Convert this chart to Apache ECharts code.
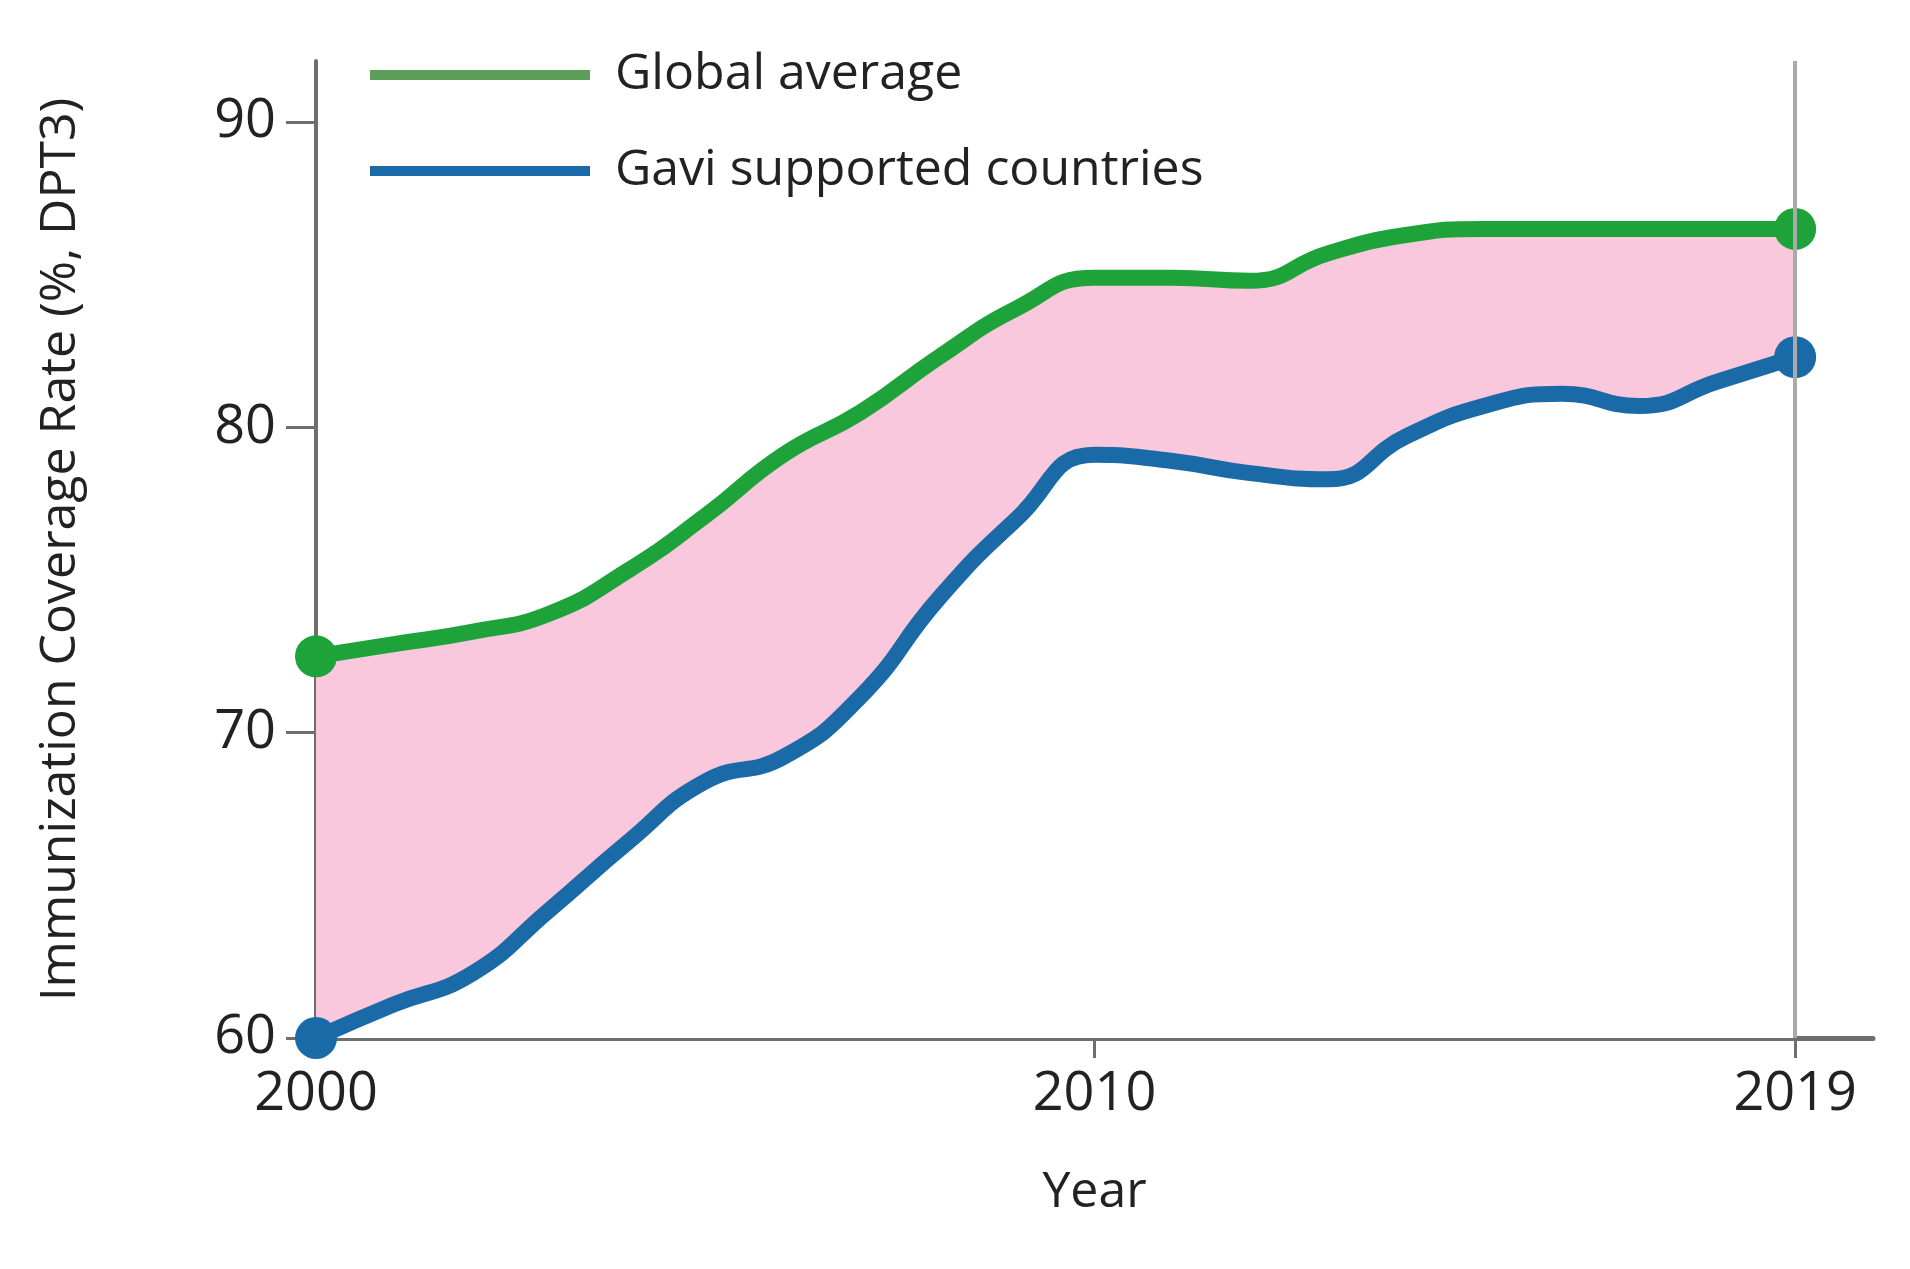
<!DOCTYPE html>
<html><head><meta charset="utf-8">
<script src="https://cdn.jsdelivr.net/npm/echarts@6/dist/echarts.min.js"></script>
<style>html,body{margin:0;background:#fff}#chart{width:1910px;height:1269px}</style>
</head><body><div id="chart"></div>
<script>
var years = [2000,2001,2002,2003,2004,2005,2006,2007,2008,2009,2010,2011,2012,2013,2014,2015,2016,2017,2018,2019];
var globalAvg = [72.5,72.9,73.3,73.9,75.3,77.1,79.1,80.5,82.3,83.9,84.9,84.9,84.8,85.7,86.3,86.5,86.5,86.5,86.5,86.5];
var gaviData = [60,61.1,62.1,64.2,66.4,68.4,69.2,71.2,74.4,77,79.1,78.9,78.5,78.3,79.7,80.7,81.1,80.7,81.5,82.3];
var xTicks = [2000,2010,2019];
var yTicks = [60,70,80,90];

var green = '#1ea23a', blue = '#1a6aa8', pink = '#f9c8dc', axisGray = '#6e6e6e';
var endSym = function (v, p) { return (p.dataIndex === 0 || p.dataIndex === years.length - 1) ? 42 : 0; };
var gaviPts = years.map(function (y, i) { return [y, gaviData[i]]; });
var globalPts = years.map(function (y, i) { return [y, globalAvg[i]]; });

var chart = echarts.init(document.getElementById('chart'));
chart.setOption({
  animation: false,
  textStyle: { fontFamily: 'Open Sans' },
  grid: { left: 316, right: 37, top: 61, bottom: 231 },
  legend: {
    orient: 'vertical', left: 365, top: 45, itemWidth: 220, itemHeight: 10, itemGap: 46,
    textStyle: { fontSize: 50, color: '#222', fontFamily: 'Open Sans', padding: [0, 0, 0, 20] },
    data: [
      { name: 'Global average', icon: 'rect', itemStyle: { color: '#5a9e5a' } },
      { name: 'Gavi supported countries', icon: 'rect', itemStyle: { color: blue } }
    ]
  },
  xAxis: {
    type: 'value', min: 2000, max: 2020,
    name: 'Year', nameLocation: 'middle', nameGap: 130,
    nameTextStyle: { fontSize: 50, color: '#222' },
    axisLine: { show: true, lineStyle: { color: axisGray, width: 5 } },
    axisTick: { show: true, customValues: xTicks, length: 20, lineStyle: { color: axisGray, width: 3 } },
    axisLabel: { customValues: xTicks, fontSize: 54, color: '#222', margin: 30, formatter: function (v) { return String(v); } },
    splitLine: { show: false }
  },
  yAxis: {
    type: 'value', min: 60, max: 92,
    name: 'Immunization Coverage Rate (%, DPT3)', nameLocation: 'middle', nameGap: 230,
    nameTextStyle: { fontSize: 50, color: '#222' },
    axisLine: { show: true, lineStyle: { color: axisGray, width: 4 } },
    axisTick: { show: true, customValues: yTicks, length: 30, lineStyle: { color: axisGray, width: 3 } },
    axisLabel: { customValues: yTicks, fontSize: 54, color: '#222', margin: 40 },
    splitLine: { show: false }
  },
  series: [
    {
      name: 'bandTop', type: 'line', smooth: true, data: globalPts,
      lineStyle: { width: 0 }, symbol: 'none', areaStyle: { color: pink, opacity: 1 }, silent: true, z: 1,
      markLine: {
        symbol: 'none', silent: true, label: { show: false },
        lineStyle: { color: '#aaa', width: 4, type: 'solid' },
        data: [[{ coord: [2019, 60] }, { coord: [2019, 92] }]]
      }
    },
    {
      name: 'bandBottom', type: 'line', smooth: true, data: gaviPts,
      lineStyle: { width: 0 }, symbol: 'none', areaStyle: { color: '#fff', opacity: 1 }, silent: true, z: 1
    },
    {
      name: 'Global average', type: 'line', smooth: true, data: globalPts, z: 3,
      lineStyle: { color: green, width: 16 }, itemStyle: { color: green },
      symbol: 'circle', symbolSize: endSym, showAllSymbol: true
    },
    {
      name: 'Gavi supported countries', type: 'line', smooth: true, data: gaviPts, z: 3,
      lineStyle: { color: blue, width: 16 }, itemStyle: { color: blue },
      symbol: 'circle', symbolSize: endSym, showAllSymbol: true
    }
  ]
});
</script></body></html>
